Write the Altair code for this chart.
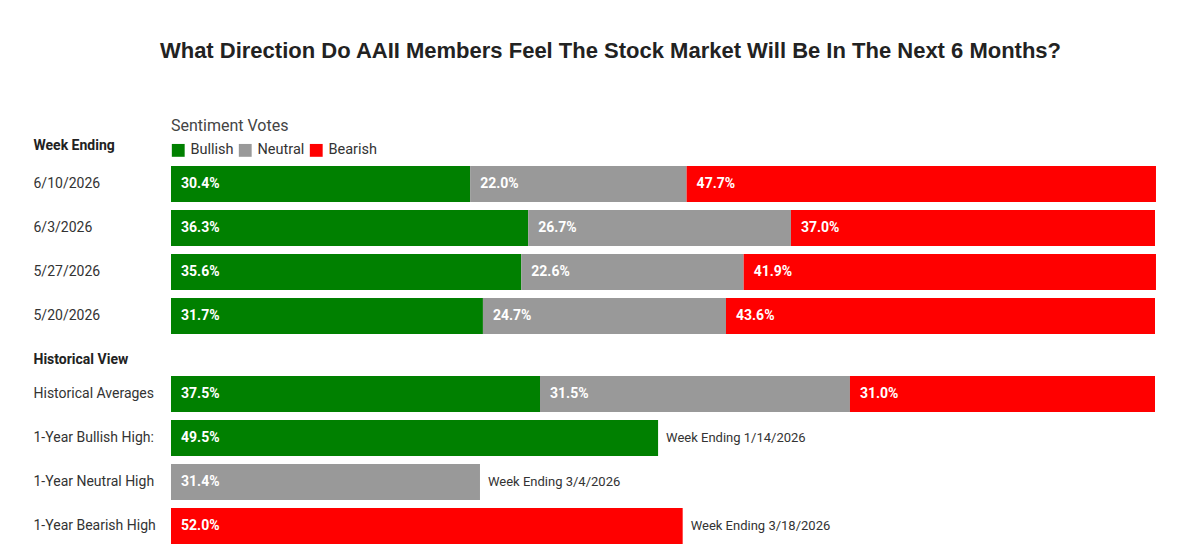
import altair as alt
import pandas as pd

# ---- data ----
weeks = ["6/10/2026", "6/3/2026", "5/27/2026", "5/20/2026"]
week_bullish = [30.4, 36.3, 35.6, 31.7]
week_neutral = [22.0, 26.7, 22.6, 24.7]
week_bearish = [47.7, 37.0, 41.9, 43.6]
week_notes = ["", "", "", ""]

hist_rows = ["Historical Averages", "1-Year Bullish High:", "1-Year Neutral High", "1-Year Bearish High"]
hist_bullish = [37.5, 49.5, 0, 0]
hist_neutral = [31.5, 0, 31.4, 0]
hist_bearish = [31.0, 0, 0, 52.0]
hist_notes = ["", "Week Ending 1/14/2026", "Week Ending 3/4/2026", "Week Ending 3/18/2026"]

categories = ["Bullish", "Neutral", "Bearish"]
colors = ["#008000", "#999999", "#ff0000"]

TITLE = "What Direction Do AAII Members Feel The Stock Market Will Be In The Next 6 Months?"
LABEL_FONT = "Roboto"
BAR_FONT = "Liberation Sans Narrow, Roboto"


def panel(rows, bull, neut, bear, notes, header, header_y, show_legend):
    recs = []
    note_recs = []
    for i, r in enumerate(rows):
        start = 0.0
        for cat, v in zip(categories, (bull[i], neut[i], bear[i])):
            if v > 0:
                recs.append(dict(row=r, cat=cat, start=start, end=start + v, label=f"{v:.1f}%"))
                start += v
        if notes[i]:
            note_recs.append(dict(row=r, end=start, note=notes[i]))
    bars_df = pd.DataFrame(recs)
    notes_df = pd.DataFrame(note_recs if note_recs else [dict(row=rows[0], end=0.0, note="")])

    y = alt.Y(
        "row:N",
        sort=rows,
        scale=alt.Scale(domain=rows, paddingInner=0.18, paddingOuter=0.09),
        axis=alt.Axis(
            title=header, titleAngle=0, titleAlign="left", titleBaseline="middle",
            titleX=-138, titleY=header_y, titleFont=LABEL_FONT, titleFontSize=14,
            titleFontWeight="bold", titleColor="#222",
            labelAlign="left", labelPadding=138, ticks=False, tickSize=0, domain=False,
            labelFont=LABEL_FONT, labelFontSize=14, labelColor="#333", labelLimit=220,
            labelBaseline="middle", grid=False,
        ),
    )
    xscale = alt.Scale(domain=[0, 100], nice=False, zero=True)

    if show_legend:
        legend = alt.Legend(
            title="Sentiment Votes", orient="none", legendX=0, legendY=-44,
            direction="horizontal", symbolType="square", symbolSize=165,
            symbolStrokeWidth=0, symbolOpacity=1,
            titleFontSize=16, titleFontWeight="normal", titleFont=LABEL_FONT,
            titleColor="#444", titlePadding=9,
            labelFont=LABEL_FONT, labelFontSize=14.5, labelColor="#333",
            columnPadding=4, labelOffset=5,
        )
    else:
        legend = None

    bars = alt.Chart(bars_df).mark_bar(cornerRadius=0).encode(
        x=alt.X("start:Q", scale=xscale, axis=None),
        x2="end:Q",
        y=y,
        color=alt.Color("cat:N", scale=alt.Scale(domain=categories, range=colors), legend=legend),
    )
    text = alt.Chart(bars_df).mark_text(
        align="left", baseline="middle", dx=10, color="white",
        font=BAR_FONT, fontWeight="bold", fontSize=14,
    ).encode(x=alt.X("start:Q", scale=xscale, axis=None), y=y, text="label:N")
    note = alt.Chart(notes_df).mark_text(
        align="left", baseline="middle", dx=8, color="#333",
        font=LABEL_FONT, fontSize=13,
    ).encode(x=alt.X("end:Q", scale=xscale, axis=None), y=y, text="note:N")

    return alt.layer(bars, text, note).properties(width=984, height=176)


p1 = panel(weeks, week_bullish, week_neutral, week_bearish, week_notes, "Week Ending", -17, True)
p2 = panel(hist_rows, hist_bullish, hist_neutral, hist_bearish, hist_notes, "Historical View", -13, False)

chart = alt.vconcat(p1, p2, spacing=34, bounds="flush").resolve_legend(
    color="independent"
).properties(
    title=alt.TitleParams(
        text=TITLE, anchor="middle", font="Liberation Sans", fontSize=22,
        fontWeight="bold", color="#222", offset=55, dx=16,
    ),
    padding={"left": 25, "top": 32, "right": 10, "bottom": 5},
).configure_view(stroke=None)

chart.save("out.html", embed_options={"renderer": "svg", "actions": False})
